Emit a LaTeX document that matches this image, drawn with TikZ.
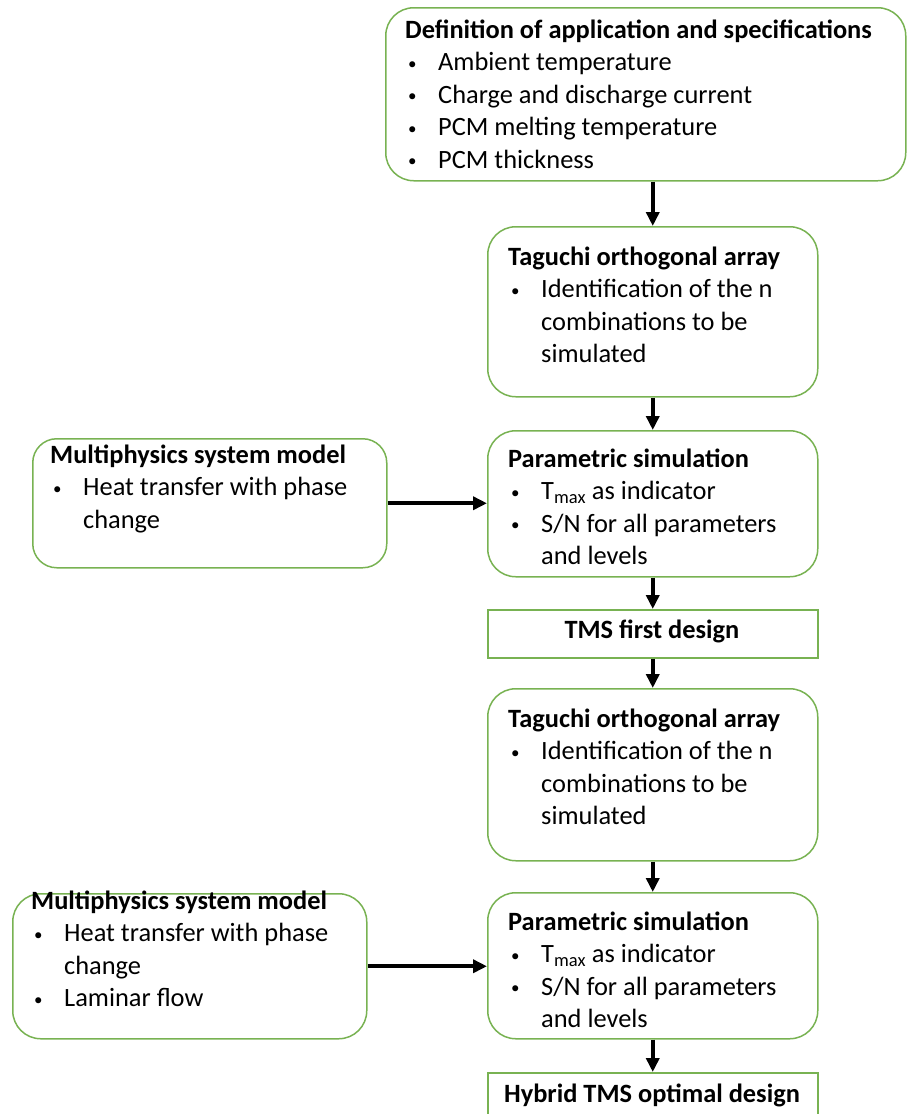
\documentclass[tikz,border=0pt]{standalone}
\usepackage{fontspec}
\setmainfont{Carlito}
\usetikzlibrary{arrows.meta}
\definecolor{leafgreen}{RGB}{120,178,82}
\tikzset{
    >={Triangle[length=14pt,width=13pt]},
    flow/.style={
        stage/.append style={draw=leafgreen,line width=1.5pt,rounded corners=28pt,anchor=north west,inner sep=0pt},
        stagebar/.append style={draw=leafgreen,line width=1.5pt,anchor=north west,inner sep=0pt},
        blurb/.append style={anchor=base west,inner sep=0pt,font=\bodyfont},
        caption/.append style={anchor=base,inner sep=0pt,font=\bodyfont\bfseries},
        every edge/.append style={draw,line width=3.8pt,->}
    }
}
\newcommand{\bodyfont}{\fontsize{26.4pt}{32.5pt}\selectfont}
\newcommand{\lines}[1]{\begin{tabular}[t]{@{}l@{}}#1\end{tabular}}
\newcommand{\itm}{\makebox[33pt][l]{\hspace{3pt}\raisebox{1.5pt}{\fontsize{17pt}{17pt}\selectfont\textbullet}}}
\newcommand{\cnt}{\hspace*{33pt}}

\begin{document}
\begin{tikzpicture}[flow,x=1pt,y=-1pt]
    \clip (0,0) rectangle (908,1114);

    \node[stage,minimum width=520,minimum height=173] (def) at (385,7) {};
    \node[blurb] (deftxt) at (405,38) {\lines{\textbf{Definition of application and specifications}\\
        \itm Ambient temperature\\ \itm Charge and discharge current\\
        \itm PCM melting temperature\\ \itm PCM thickness}};

    \node[stage,minimum width=330,minimum height=170] (tag1) at (487,226) {};
    \node[blurb] (tag1txt) at (508,265) {\lines{\textbf{Taguchi orthogonal array}\\
        \itm Identification of the n\\ \cnt combinations to be\\ \cnt simulated}};

    \node[stage,minimum width=354,minimum height=129,rounded corners=24pt] (mp1) at (32,438) {};
    \node[blurb] (mp1txt) at (50,463) {\lines{\textbf{Multiphysics system model}\\
        \itm Heat transfer with phase\\ \cnt change}};

    \node[stage,minimum width=330,minimum height=146] (par1) at (487,430) {};
    \node[blurb] (par1txt) at (508,467) {\lines{\textbf{Parametric simulation}\\
        \itm T\textsubscript{max} as indicator\\ \itm S/N for all parameters\\ \cnt and levels}};

    \node[stagebar,minimum width=330,minimum height=48] (tms) at (487,609) {};
    \node[caption] (tmstxt) at (652,638) {TMS first design};

    \node[stage,minimum width=330,minimum height=172] (tag2) at (487,688) {};
    \node[blurb] (tag2txt) at (508,727) {\lines{\textbf{Taguchi orthogonal array}\\
        \itm Identification of the n\\ \cnt combinations to be\\ \cnt simulated}};

    \node[stage,minimum width=354,minimum height=145] (mp2) at (12,893) {};
    \node[blurb] (mp2txt) at (31,909) {\lines{\textbf{Multiphysics system model}\\
        \itm Heat transfer with phase\\ \cnt change\\ \itm Laminar flow}};

    \node[stage,minimum width=330,minimum height=146] (par2) at (487,892) {};
    \node[blurb] (par2txt) at (508,930) {\lines{\textbf{Parametric simulation}\\
        \itm T\textsubscript{max} as indicator\\ \itm S/N for all parameters\\ \cnt and levels}};

    \node[stagebar,minimum width=330,minimum height=60] (hyb) at (487,1072) {};
    \node[caption] (hybtxt) at (652,1102) {Hybrid TMS optimal design};

    % arrows
    \draw (def.south -| tag1.north) edge (tag1.north)
          (tag1.south) edge (par1.north)
          (par1.south) edge (tms.north)
          (tms.south) edge (tag2.north)
          (tag2.south) edge (par2.north)
          (par2.south) edge (hyb.north)
          (mp1.east) edge (mp1.east -| par1.west)
          (mp2.east) edge (mp2.east -| par2.west);
\end{tikzpicture}
\end{document}
